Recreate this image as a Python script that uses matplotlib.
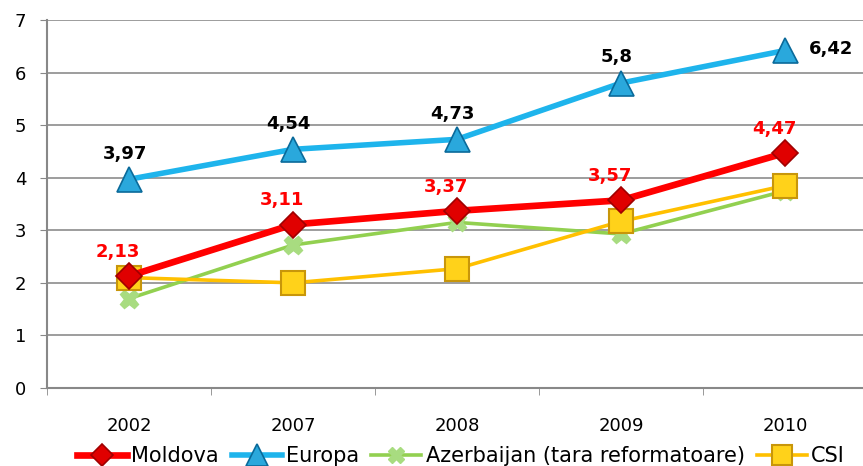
import matplotlib
matplotlib.use("Agg")
import matplotlib.pyplot as plt
import numpy as np

years = ["2002", "2007", "2008", "2009", "2010"]
moldova = [2.13, 3.11, 3.37, 3.57, 4.47]
europa = [3.97, 4.54, 4.73, 5.80, 6.42]
azerbaijan = [1.70, 2.72, 3.15, 2.93, 3.75]
csi = [2.10, 2.00, 2.27, 3.17, 3.85]
moldova_labels = ["2,13", "3,11", "3,37", "3,57", "4,47"]
europa_labels = ["3,97", "4,54", "4,73", "5,8", "6,42"]
series_names = ["Moldova", "Europa", "Azerbaijan (tara reformatoare)", "CSI"]

plt.rcParams['font.family'] = ['DejaVu Sans']

fig = plt.figure(figsize=(8.63, 4.66), dpi=100)
ax = fig.add_axes([47/863, 78/466, 820/863, 368/466])
x = np.arange(len(years))

ax.plot(x, azerbaijan, color="#92D050", lw=2.6, marker="X", ms=13,
        mfc="#A8DC80", mec="#A8DC80", label=series_names[2], zorder=3)
ax.plot(x, csi, color="#FFC000", lw=2.6, marker="s", ms=17,
        mfc="#FFD21A", mec="#C8960A", mew=1.5, label=series_names[3], zorder=4)
ax.plot(x, moldova, color="#FF0000", lw=4.8, marker="D", ms=13,
        mfc="#E00000", mec="#A00000", mew=1.2, label=series_names[0], zorder=5)
ax.plot(x, europa, color="#1EB4EC", lw=4.0, marker="^", ms=18,
        mfc="#2AA8DC", mec="#0A6A9A", mew=1.2, label=series_names[1], zorder=5)

handles, labels = ax.get_legend_handles_labels()
order = [labels.index(n) for n in series_names]
ax.legend([handles[i] for i in order], [labels[i] for i in order],
          loc="center", bbox_to_anchor=(0.505, -68/368), ncol=4,
          frameon=False, fontsize=15, handlelength=2.4, handletextpad=0.2,
          columnspacing=0.6, borderaxespad=0, borderpad=0, markerscale=0.85)

for i, (v, t) in enumerate(zip(moldova, moldova_labels)):
    ax.annotate(t, (i, v), xytext=(-8, 11), textcoords="offset points",
                ha="center", va="bottom", color="#FF0000", fontsize=13,
                fontweight="bold", zorder=6)
for i, (v, t) in enumerate(zip(europa, europa_labels)):
    if i == len(europa) - 1:
        ax.annotate(t, (i, v), xytext=(33, 1), textcoords="offset points",
                    ha="center", va="center", color="black", fontsize=13,
                    fontweight="bold", zorder=6)
    else:
        ax.annotate(t, (i, v), xytext=(-3, 12), textcoords="offset points",
                    ha="center", va="bottom", color="black", fontsize=13,
                    fontweight="bold", zorder=6)

ax.set_xlim(-0.5, 4.5)
ax.set_ylim(0, 7)
ax.set_yticks(range(0, 8))
ax.set_xticks(x)
ax.set_xticklabels(years, fontsize=13)
ax.tick_params(axis="y", labelsize=13, length=5, color="#888888", pad=10)
ax.tick_params(axis="x", which="major", length=0, pad=21)
ax.set_xticks(np.arange(-0.5, 5, 1), minor=True)
ax.tick_params(axis="x", which="minor", length=5, color="#888888")
ax.grid(axis="y", color="#8C8C8C", lw=1.2)
ax.set_axisbelow(True)
for s in ["top", "right"]:
    ax.spines[s].set_visible(False)
for s in ["left", "bottom"]:
    ax.spines[s].set_color("#888888")
    ax.spines[s].set_linewidth(1.5)

fig.savefig("out.png", dpi=100)
